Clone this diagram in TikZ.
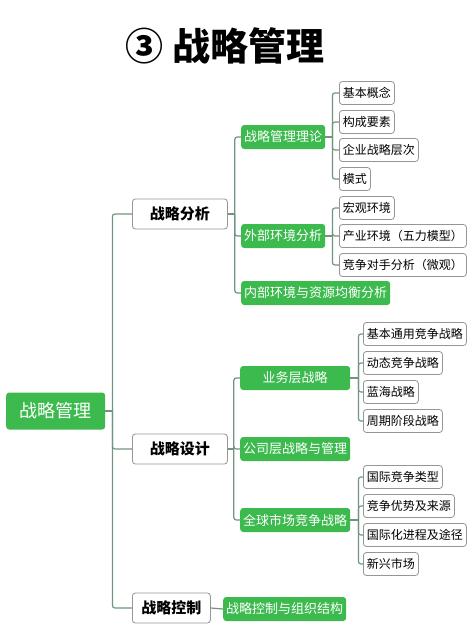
\documentclass[tikz,border=0pt]{standalone}
\usepackage{fontspec}
\setmainfont{Noto Sans CJK SC}
\definecolor{mapgreen}{RGB}{60,186,78}
\definecolor{linkgreen}{RGB}{112,150,128}
\definecolor{boxgray}{RGB}{150,150,150}
\begin{document}
\begin{tikzpicture}[x=1pt,y=-1pt,
    root/.style ={rectangle, rounded corners=3pt, fill=mapgreen, text=white, inner sep=0pt,
                  minimum width=99pt, minimum height=37pt, font=\fontsize{18}{20}\selectfont},
    topic/.style={rectangle, rounded corners=3pt, draw=boxgray, fill=white, line width=0.8pt, anchor=west,
                  inner sep=0pt, minimum height=30pt, font=\fontsize{15}{17}\selectfont\bfseries},
    sub/.style  ={rectangle, rounded corners=3pt, fill=mapgreen, text=white, anchor=west,
                  inner xsep=3pt, inner ysep=0pt, minimum height=24pt, font=\fontsize{13}{15}\selectfont},
    leaf/.style ={rectangle, rounded corners=3pt, draw=boxgray, fill=white, line width=0.8pt, anchor=west,
                  inner xsep=3.5pt, inner ysep=0pt, minimum height=23pt, font=\fontsize{12}{14}\selectfont},
    link/.style ={draw=linkgreen, line width=1.2pt, rounded corners=2.5pt}]
   \useasboundingbox[fill=white] (0,0) rectangle (474,640);
   \node[font=\fontsize{38}{42}\selectfont\bfseries] (title) at (225,46) {③ 战略管理};
   % root and main branches
   \node[root, anchor=west] (sm) at (6,411) {战略管理};
   \node[topic, minimum width=95pt] (fx) at (132,214) {战略分析};
   \node[topic, minimum width=95pt] (sj) at (132,449) {战略设计};
   \node[topic, minimum width=78pt] (kz) at (132,608) {战略控制};
   \draw[link] (sm.east) -- ++(7,0) coordinate (jsm);
   \draw[link] (jsm) |- (fx.west);
   \draw[link] (jsm) |- (sj.west);
   \draw[link] (jsm) |- (kz.west);
   % 战略分析
   \node[sub, minimum width=84pt] (ll) at (241,137) {战略管理理论};
   \node[sub, minimum width=84pt] (wb) at (241,236) {外部环境分析};
   \node[sub] (nb) at (241,293) {内部环境与资源均衡分析};
   \draw[link] (fx.east) -- ++(7,0) coordinate (jfx);
   \draw[link] (jfx) |- (ll.west);
   \draw[link] (jfx) |- (wb.west);
   \draw[link] (jfx) |- (nb.west);
   \draw[link] (ll.east) -- ++(7,0) coordinate (jll);
   \foreach \txt/\y [count=\i] in {基本概念/93, 构成要素/122, 企业战略层次/150, 模式/179}{
     \node[leaf] (ll\i) at (339,\y) {\txt};
     \draw[link] (jll) |- (ll\i.west);
   }
   \draw[link] (wb.east) -- ++(7,0) coordinate (jwb);
   \foreach \txt/\y [count=\i] in {宏观环境/208, 产业环境（五力模型）/236, 竞争对手分析（微观）/265}{
     \node[leaf] (wb\i) at (339,\y) {\txt};
     \draw[link] (jwb) |- (wb\i.west);
   }
   % 战略设计
   \node[sub, minimum width=110pt] (yw) at (240,378) {业务层战略};
   \node[sub, minimum width=110pt] (gs) at (240,449) {公司层战略与管理};
   \node[sub, minimum width=110pt] (qq) at (240,520) {全球市场竞争战略};
   \draw[link] (sj.east) -- ++(6,0) coordinate (jsj);
   \draw[link] (jsj) |- (yw.west);
   \draw[link] (jsj) |- (gs.west);
   \draw[link] (jsj) |- (qq.west);
   \draw[link] (yw.east) -- ++(8,0) coordinate (jyw);
   \foreach \txt/\y [count=\i] in {基本通用竞争战略/334, 动态竞争战略/363, 蓝海战略/392, 周期阶段战略/421}{
     \node[leaf] (yw\i) at (363,\y) {\txt};
     \draw[link] (jyw) |- (yw\i.west);
   }
   \draw[link] (qq.east) -- ++(8,0) coordinate (jqq);
   \foreach \txt/\y [count=\i] in {国际竞争类型/477, 竞争优势及来源/506, 国际化进程及途径/535, 新兴市场/564}{
     \node[leaf] (qq\i) at (363,\y) {\txt};
     \draw[link] (jqq) |- (qq\i.west);
   }
   % 战略控制
   \node[sub] (zz) at (223,609) {战略控制与组织结构};
   \draw[link] (kz.east) -- (zz.west);
\end{tikzpicture}
\end{document}
